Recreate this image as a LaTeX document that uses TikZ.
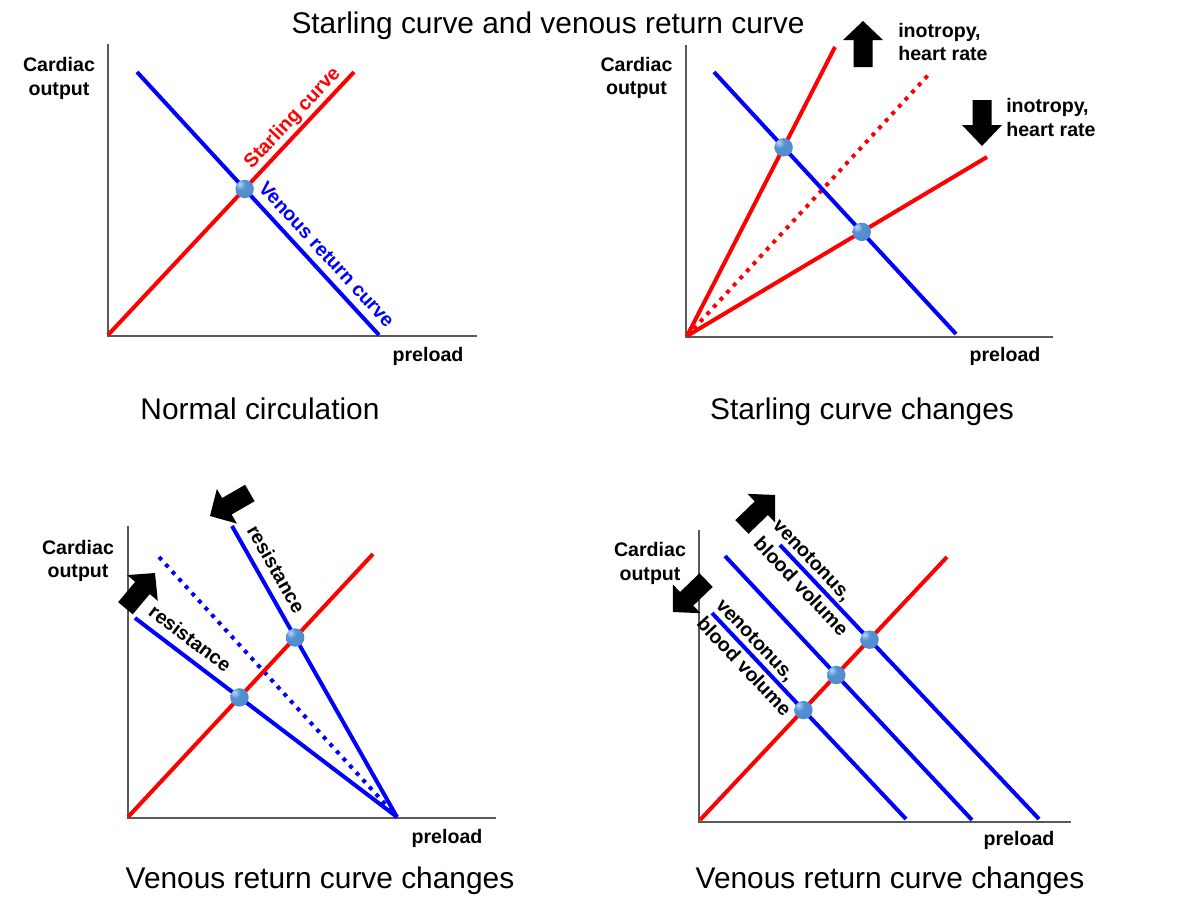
\documentclass[tikz,border=0pt]{standalone}
\usepackage{fontspec}
\setmainfont{Liberation Sans}
\definecolor{pured}{RGB}{255,0,0}
\definecolor{pureblue}{RGB}{0,0,255}
\definecolor{ballhi}{RGB}{185,215,245}
\definecolor{ballmid}{RGB}{85,145,210}
\definecolor{balldark}{RGB}{45,95,165}
\pgfdeclareradialshading{sphshade}{\pgfpoint{-14bp}{14bp}}{color(0bp)=(ballhi); color(14bp)=(ballmid); color(40bp)=(ballmid!85!balldark); color(62bp)=(balldark); color(100bp)=(balldark)}
\newcommand{\blockarrow}[3]{%
  \fill[black, shift={#1}, rotate=#2] (0,0) -- (-#3,20) -- (-#3,9.5) -- (-46,9.5) -- (-46,-9.5) -- (-#3,-9.5) -- (-#3,-20) -- cycle;}
\begin{document}
\begin{tikzpicture}[x=0.75pt,y=-0.75pt,
  axisline/.style={line width=1pt, draw=black!65},
  redline/.style={line width=3pt, draw=pured},
  blueline/.style={line width=3pt, draw=pureblue},
  dotline/.style={line width=3pt, dash pattern=on 3pt off 4.3pt},
  sphere/.style={circle, inner sep=0pt, minimum size=13.8pt, shading=sphshade},
  lbl/.style={font=\bfseries\fontsize{14.7}{17.8}\selectfont, inner sep=0pt, align=center},
  captxt/.style={font=\fontsize{22.4}{27}\selectfont, inner sep=0pt, anchor=base},
  curvelbl/.style={font=\bfseries\fontsize{14.7}{17.8}\selectfont, sloped, anchor=south, text depth=0.25em},
  vlbl/.style={font=\bfseries\fontsize{14.7}{20}\selectfont, sloped, anchor=center, align=left, inner sep=0pt},
]
\fill[white] (0,0) rectangle (1200,900);
\useasboundingbox (0,0) rectangle (1200,900);

\node[captxt] (title) at (548,33) {Starling curve and venous return curve};

% ---------------- Panel 1 ----------------
\coordinate (y1) at (108,44);
\coordinate (o1) at (108,336);
\coordinate (x1) at (477,336);
\draw[axisline] (y1) -- (o1) -- (x1);
\coordinate (r1s) at (108,335);
\coordinate (r1e) at (354,72);
\coordinate (b1s) at (137,72);
\coordinate (b1e) at (379,335);
\draw[redline] (r1s) -- node[curvelbl, pos=0.79, text=pured, inner sep=2pt] (lst) {Starling curve} (r1e);
\draw[blueline] (b1s) -- node[curvelbl, pos=0.735, text=pureblue, inner sep=3.1pt] (lvr) {Venous return curve} (b1e);
\node[sphere] (p1) at (intersection of r1s--r1e and b1s--b1e) {};
\node[lbl] (co1) at (59,78.7) {Cardiac\\output};
\node[lbl] (pl1) at (428,356.5) {preload};
\node[captxt] (c1) at (260,419) {Normal circulation};

% ---------------- Panel 2 ----------------
\coordinate (y2) at (686,45);
\coordinate (o2a) at (686,337);
\coordinate (x2) at (1053,337);
\draw[axisline] (y2) -- (o2a) -- (x2);
\coordinate (o2) at (687,336);
\coordinate (r2a) at (835,47);
\coordinate (r2b) at (987,157);
\coordinate (r2d) at (931,72);
\coordinate (b2s) at (714,72);
\coordinate (b2e) at (956,334);
\draw[redline, dotline] (o2) -- (r2d);
\draw[redline] (o2) -- (r2a);
\draw[redline] (o2) -- (r2b);
\draw[blueline] (b2s) -- (b2e);
\node[sphere] (p2a) at (intersection of o2--r2a and b2s--b2e) {};
\node[sphere] (p2b) at (intersection of o2--r2b and b2s--b2e) {};
\blockarrow{(863,21)}{90}{19}
\blockarrow{(982,146)}{-90}{21}
\node[lbl, anchor=west, align=left] (ino1) at (898,42) {inotropy,\\heart rate};
\node[lbl, anchor=west, align=left] (ino2) at (1006,117.7) {inotropy,\\heart rate};
\node[lbl] (co2) at (636.5,78) {Cardiac\\output};
\node[lbl] (pl2) at (1005,356) {preload};
\node[captxt] (c2) at (862,419) {Starling curve changes};

% ---------------- Panel 3 ----------------
\coordinate (y3) at (128,526);
\coordinate (o3) at (128,818);
\coordinate (x3) at (496,818);
\draw[axisline] (y3) -- (o3) -- (x3);
\coordinate (r3s) at (128,817);
\coordinate (r3e) at (373,554);
\coordinate (ap3) at (397,817);
\coordinate (st3) at (232,526);
\coordinate (sh3) at (135,618);
\coordinate (dt3) at (159,557);
\draw[blueline, dotline] (dt3) -- (ap3);
\draw[redline] (r3s) -- (r3e);
\draw[blueline] (st3) -- node[curvelbl, pos=0.177, inner sep=3.8pt] (res1) {resistance} (ap3);
\draw[blueline] (sh3) -- node[curvelbl, pos=0.171, inner sep=3.8pt] (res2) {resistance} (ap3);
\node[sphere] (p3a) at (intersection of r3s--r3e and st3--ap3) {};
\node[sphere] (p3b) at (intersection of r3s--r3e and sh3--ap3) {};
\blockarrow{(210,516)}{210}{19.5}
\blockarrow{(155,573)}{50}{19.5}
\node[lbl] (co3) at (78,561) {Cardiac\\output};
\node[lbl] (pl3) at (447,838) {preload};
\node[captxt] (c3) at (320,888) {Venous return curve changes};

% ---------------- Panel 4 ----------------
\coordinate (y4) at (699,530);
\coordinate (o4) at (699,822);
\coordinate (x4) at (1071,822);
\draw[axisline] (y4) -- (o4) -- (x4);
\coordinate (r4s) at (700,820);
\coordinate (r4e) at (947,557);
\coordinate (b4ls) at (712,613);
\coordinate (b4le) at (906,819);
\coordinate (b4ms) at (725,556);
\coordinate (b4me) at (972,820);
\coordinate (b4rs) at (780,545);
\coordinate (b4re) at (1039,819);
\draw[redline] (r4s) -- (r4e);
\draw[blueline] (b4ls) -- node[vlbl, pos=0.215] (vt1) {venotonus,\\blood volume} (b4le);
\draw[blueline] (b4ms) -- (b4me);
\draw[blueline] (b4rs) -- node[vlbl, pos=0.118] (vt2) {venotonus,\\blood volume} (b4re);
\node[sphere] (p4a) at (intersection of r4s--r4e and b4ls--b4le) {};
\node[sphere] (p4b) at (intersection of r4s--r4e and b4ms--b4me) {};
\node[sphere] (p4c) at (intersection of r4s--r4e and b4rs--b4re) {};
\blockarrow{(775,495)}{44}{19}
\blockarrow{(673,612)}{224}{19}
\node[lbl] (co4) at (650,563.5) {Cardiac\\output};
\node[lbl] (pl4) at (1019,840.5) {preload};
\node[captxt] (c4) at (890,888) {Venous return curve changes};
\end{tikzpicture}
\end{document}
